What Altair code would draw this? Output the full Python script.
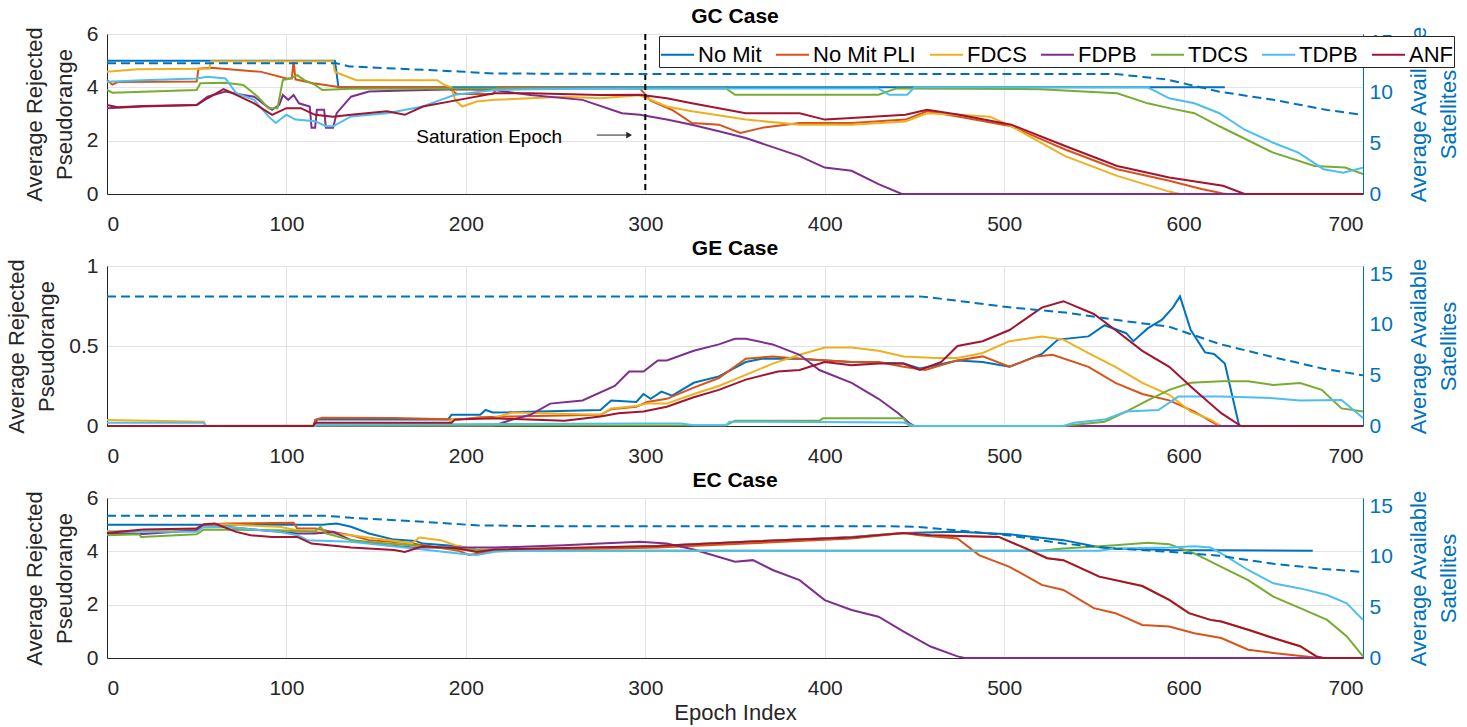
import altair as alt
import pandas as pd

FONT = "Liberation Sans"
INK = "#262626"
SAT_BLUE = "#0072BD"

SERIES = ["No Mit", "No Mit PLI", "FDCS", "FDPB", "TDCS", "TDPB", "ANF"]
COLORS = ["#0072BD", "#D95319", "#EDB120", "#7E2F8E", "#77AC30", "#4DBEEE", "#A2142F"]
X_TICKS = [0, 100, 200, 300, 400, 500, 600, 700]
SAT_TICKS = [0, 5, 10, 15]

# ---------------- GC case: (epoch, average rejected pseudoranges) ----------------
GC_NO_MIT = [(0, 5.0), (127, 5.0), (129, 4.0), (623, 4.0)]
GC_NO_MIT_PLI = [(0, 4.27), (3, 4.1), (6, 4.2), (50, 4.22), (51, 4.7), (58, 4.73), (86, 4.58),
                 (100, 4.33), (103, 4.33), (104, 5.0), (105, 4.3), (115, 4.15), (130, 4.0),
                 (190, 4.0), (195, 3.75), (215, 3.75), (218, 4.0), (297, 3.96), (303, 3.5),
                 (315, 3.15), (326, 2.66), (341, 2.6), (353, 2.29), (365, 2.48), (386, 2.66),
                 (415, 2.66), (445, 2.79), (457, 3.1), (475, 2.9), (504, 2.54), (534, 1.67),
                 (563, 0.93), (592, 0.5), (610, 0.19), (622, 0.02), (625, 0.0), (700, 0.0)]
GC_FDCS = [(0, 4.58), (17, 4.68), (56, 4.7), (57, 4.7), (58, 4.98), (126, 4.98), (127, 4.58),
           (130, 4.5), (139, 4.27), (184, 4.27), (188, 4.09), (192, 4.0), (194, 3.53), (198, 3.28),
           (206, 3.47), (216, 3.53), (236, 3.59), (255, 3.65), (275, 3.59), (297, 3.7), (312, 3.28),
           (326, 3.1), (356, 2.79), (386, 2.6), (415, 2.6), (445, 2.72), (457, 3.03), (475, 2.97),
           (492, 2.9), (504, 2.54), (534, 1.42), (563, 0.68), (592, 0.09), (598, 0.0), (700, 0.0)]
GC_FDPB = [(0, 3.22), (20, 3.28), (50, 3.34), (56, 3.65), (66, 3.84), (76, 3.71), (82, 3.65),
           (88, 3.34), (92, 3.16), (96, 3.34), (98, 3.71), (101, 3.53), (104, 3.71), (107, 3.4),
           (113, 3.28), (114, 2.48), (116, 2.48), (117, 3.16), (121, 3.16), (122, 2.48), (126, 2.48),
           (128, 3.03), (136, 3.65), (146, 3.84), (166, 3.88), (196, 3.93), (216, 3.9), (236, 3.71),
           (265, 3.53), (287, 3.03), (297, 2.97), (312, 2.79), (326, 2.6), (341, 2.35), (356, 2.1),
           (386, 1.42), (400, 0.99), (415, 0.87), (430, 0.37), (443, 0.0), (700, 0.0)]
GC_TDCS = [(0, 3.9), (3, 3.8), (50, 3.9), (52, 4.15), (66, 4.17), (76, 4.09), (84, 3.65), (90, 3.22),
           (95, 3.22), (98, 4.27), (102, 4.33), (106, 4.46), (110, 4.27), (116, 4.09), (120, 3.9),
           (136, 3.95), (297, 3.96), (345, 3.96), (350, 3.72), (430, 3.72), (440, 3.96), (520, 3.93),
           (563, 3.78), (580, 3.4), (592, 3.22), (606, 3.03), (620, 2.54), (650, 1.55), (673, 1.05),
           (690, 0.99), (700, 0.75)]
GC_TDPB = [(0, 4.21), (20, 4.27), (50, 4.33), (56, 4.4), (66, 4.33), (72, 3.78), (82, 3.53), (90, 2.91),
           (94, 2.66), (100, 2.97), (105, 2.79), (116, 2.73), (122, 2.54), (126, 2.54), (136, 2.91),
           (156, 3.03), (176, 3.28), (186, 3.53), (194, 3.72), (216, 3.9), (236, 3.93), (300, 3.96),
           (430, 3.96), (436, 3.72), (446, 3.72), (450, 4.0), (580, 4.0), (592, 3.59), (606, 3.4),
           (620, 3.03), (634, 2.41), (650, 1.92), (664, 1.55), (678, 0.93), (689, 0.8), (700, 0.99)]
GC_ANF = [(0, 3.34), (6, 3.25), (20, 3.3), (50, 3.34), (56, 3.59), (65, 3.93), (72, 3.72), (82, 3.4),
          (92, 2.97), (100, 3.22), (108, 3.22), (116, 2.97), (126, 2.9), (136, 2.97), (156, 3.1),
          (166, 2.97), (176, 3.28), (196, 3.53), (216, 3.78), (236, 3.78), (275, 3.71), (297, 3.72),
          (312, 3.59), (326, 3.4), (356, 3.03), (386, 3.03), (400, 2.79), (415, 2.85), (445, 2.97),
          (457, 3.16), (475, 2.97), (504, 2.6), (534, 1.8), (563, 1.05), (592, 0.62), (622, 0.31),
          (634, 0.0), (700, 0.0)]
GC_SATS = [(0, 12.9), (128, 12.9), (135, 12.6), (196, 12.1), (216, 11.9), (300, 11.85), (562, 11.85),
           (591, 11.3), (620, 10.1), (650, 9.3), (680, 8.3), (700, 7.8)]

# ---------------- GE case ----------------
GE_NO_MIT = [(0, 0.0), (116, 0.0), (117, 0.04), (190, 0.04), (192, 0.07), (208, 0.07), (211, 0.1),
             (215, 0.084), (275, 0.1), (281, 0.16), (295, 0.15), (299, 0.2), (303, 0.17), (309, 0.215),
             (315, 0.19), (327, 0.27), (341, 0.31), (356, 0.4), (365, 0.42), (386, 0.42), (400, 0.41),
             (415, 0.4), (444, 0.39), (453, 0.36), (462, 0.38), (474, 0.41), (488, 0.4), (503, 0.37),
             (521, 0.45), (530, 0.54), (547, 0.56), (556, 0.63), (568, 0.58), (572, 0.53), (580, 0.61),
             (588, 0.665), (594, 0.74), (598, 0.81), (604, 0.6), (612, 0.46), (617, 0.45), (623, 0.39),
             (631, 0.0), (634, 0.0)]
GE_NO_MIT_PLI = [(0, 0.0), (115, 0.0), (116, 0.038), (120, 0.052), (160, 0.05), (196, 0.04), (208, 0.055),
                 (226, 0.06), (275, 0.07), (281, 0.105), (295, 0.12), (301, 0.15), (312, 0.17), (327, 0.24),
                 (341, 0.3), (356, 0.42), (371, 0.435), (386, 0.42), (415, 0.4), (430, 0.4), (444, 0.37),
                 (456, 0.35), (474, 0.41), (488, 0.435), (503, 0.37), (518, 0.435), (527, 0.445),
                 (547, 0.37), (562, 0.27), (577, 0.2), (592, 0.16), (606, 0.09), (615, 0.03), (620, 0.0),
                 (700, 0.0)]
GE_FDCS = [(0, 0.038), (54, 0.027), (55, 0.0), (190, 0.0), (192, 0.04), (215, 0.05), (226, 0.084),
           (275, 0.07), (281, 0.11), (295, 0.125), (301, 0.14), (312, 0.14), (327, 0.2), (341, 0.25),
           (356, 0.32), (371, 0.39), (386, 0.445), (400, 0.49), (415, 0.49), (430, 0.47), (444, 0.435),
           (462, 0.425), (474, 0.425), (488, 0.456), (503, 0.53), (521, 0.56), (533, 0.54), (547, 0.456),
           (562, 0.37), (577, 0.27), (592, 0.195), (604, 0.09), (615, 0.04), (621, 0.0), (700, 0.0)]
GE_FDPB = [(0, 0.0), (215, 0.0), (226, 0.04), (236, 0.07), (247, 0.14), (265, 0.16), (283, 0.25),
           (291, 0.34), (299, 0.34), (307, 0.41), (312, 0.41), (327, 0.47), (341, 0.51), (350, 0.545),
           (356, 0.545), (371, 0.51), (386, 0.445), (397, 0.35), (415, 0.27), (430, 0.17), (441, 0.08),
           (447, 0.02), (450, 0.0), (700, 0.0)]
GE_TDCS = [(0, 0.0), (345, 0.005), (350, 0.033), (397, 0.033), (399, 0.048), (444, 0.048), (447, 0.0),
           (533, 0.0), (556, 0.027), (568, 0.09), (580, 0.16), (592, 0.226), (604, 0.27), (621, 0.28),
           (636, 0.28), (650, 0.257), (665, 0.268), (677, 0.226), (688, 0.11), (700, 0.09)]
GE_TDPB = [(0, 0.02), (54, 0.02), (55, 0.0), (116, 0.0), (117, 0.008), (297, 0.015), (320, 0.015),
           (327, 0.005), (345, 0.005), (347, 0.027), (444, 0.022), (450, 0.0), (533, 0.0), (539, 0.02),
           (556, 0.04), (568, 0.09), (586, 0.1), (597, 0.184), (621, 0.184), (650, 0.174), (665, 0.16),
           (688, 0.163), (700, 0.05)]
GE_ANF = [(0, 0.0), (115, 0.0), (116, 0.02), (192, 0.02), (194, 0.04), (215, 0.048), (255, 0.033),
          (275, 0.06), (285, 0.08), (299, 0.09), (312, 0.12), (327, 0.18), (341, 0.226), (356, 0.29),
          (374, 0.34), (386, 0.35), (400, 0.4), (415, 0.38), (430, 0.39), (444, 0.39), (453, 0.35),
          (465, 0.4), (474, 0.5), (488, 0.53), (503, 0.6), (521, 0.74), (533, 0.78), (550, 0.7),
          (562, 0.6), (577, 0.47), (592, 0.37), (606, 0.226), (621, 0.08), (632, 0.0), (700, 0.0)]
GE_SATS = [(0, 12.8), (453, 12.8), (468, 12.5), (504, 11.7), (534, 11.2), (563, 10.46), (592, 9.8),
           (620, 8.1), (650, 6.8), (678, 5.65), (700, 5.0)]

# ---------------- EC case ----------------
EC_NO_MIT = [(0, 5.0), (120, 5.0), (128, 5.04), (136, 4.92), (146, 4.67), (160, 4.44), (172, 4.39),
             (176, 4.29), (196, 4.19), (206, 4.05), (250, 4.1), (297, 4.17), (356, 4.36), (415, 4.54),
             (444, 4.69), (474, 4.73), (503, 4.64), (533, 4.42), (553, 4.15), (562, 4.11), (592, 4.05),
             (672, 4.02)]
EC_NO_MIT_PLI = [(0, 4.67), (20, 4.77), (50, 4.86), (54, 4.98), (66, 5.04), (104, 5.07), (106, 4.86),
                 (116, 4.86), (126, 4.73), (136, 4.6), (146, 4.42), (170, 4.29), (196, 4.02), (202, 3.86),
                 (216, 4.02), (307, 4.14), (356, 4.29), (415, 4.48), (444, 4.69), (453, 4.6), (474, 4.48),
                 (486, 3.86), (503, 3.42), (521, 2.74), (533, 2.55), (550, 1.87), (562, 1.68), (577, 1.24),
                 (592, 1.18), (606, 0.93), (621, 0.75), (636, 0.31), (650, 0.19), (668, 0.06), (676, 0.0),
                 (700, 0.0)]
EC_FDCS = [(0, 4.75), (50, 4.8), (54, 4.95), (66, 5.02), (76, 4.98), (96, 4.92), (106, 4.79), (136, 4.6),
           (170, 4.3), (174, 4.52), (186, 4.42), (194, 4.23), (206, 4.05), (216, 4.07), (307, 4.2),
           (356, 4.36), (415, 4.52), (444, 4.69), (459, 4.6), (497, 4.54), (512, 4.11), (524, 3.74),
           (533, 3.67), (547, 3.24), (553, 3.05), (577, 2.7), (592, 2.18), (603, 1.68), (615, 1.43),
           (621, 1.37), (636, 1.06), (650, 0.75), (665, 0.44), (674, 0.06), (678, 0.0), (700, 0.0)]
EC_FDPB = [(0, 4.67), (20, 4.65), (50, 4.79), (54, 4.94), (66, 4.92), (86, 4.79), (96, 4.73), (106, 4.67),
           (116, 4.67), (126, 4.73), (136, 4.42), (156, 4.23), (170, 4.14), (216, 4.14), (255, 4.23),
           (275, 4.29), (297, 4.36), (312, 4.29), (327, 4.07), (350, 3.61), (360, 3.67), (371, 3.3),
           (386, 2.92), (400, 2.17), (415, 1.8), (430, 1.55), (444, 0.99), (459, 0.43), (474, 0.06),
           (478, 0.0), (700, 0.0)]
EC_TDCS = [(0, 4.6), (18, 4.64), (19, 4.54), (50, 4.64), (54, 4.82), (96, 4.79), (106, 4.75), (116, 4.75),
           (119, 4.92), (122, 4.67), (136, 4.42), (156, 4.29), (170, 4.23), (196, 4.07), (216, 4.02),
           (520, 4.02), (533, 4.11), (562, 4.23), (580, 4.32), (592, 4.27), (606, 3.92), (621, 3.42),
           (636, 2.92), (650, 2.3), (665, 1.87), (680, 1.43), (691, 0.81), (700, 0.06)]
EC_TDPB = [(0, 4.73), (50, 4.73), (54, 4.92), (66, 4.92), (96, 4.73), (106, 4.6), (112, 4.42),
           (136, 4.36), (166, 4.14), (196, 3.92), (206, 3.86), (216, 3.98), (226, 4.02), (553, 4.02),
           (562, 4.11), (592, 4.14), (606, 4.19), (615, 4.14), (621, 3.92), (636, 3.3), (650, 2.8),
           (665, 2.61), (680, 2.36), (691, 2.05), (700, 1.43)]
EC_ANF = [(0, 4.69), (20, 4.82), (50, 4.86), (54, 5.02), (60, 5.04), (72, 4.73), (80, 4.6), (92, 4.54),
          (106, 4.54), (114, 4.29), (136, 4.14), (160, 4.05), (166, 3.98), (176, 4.19), (196, 4.11),
          (206, 3.98), (216, 4.07), (307, 4.2), (356, 4.36), (415, 4.52), (444, 4.69), (459, 4.6),
          (497, 4.54), (512, 4.11), (524, 3.74), (533, 3.67), (547, 3.24), (553, 3.05), (577, 2.7),
          (592, 2.18), (603, 1.68), (615, 1.43), (621, 1.37), (636, 1.06), (650, 0.75), (665, 0.44),
          (674, 0.06), (678, 0.0), (700, 0.0)]
EC_SATS = [(0, 14.05), (122, 14.05), (136, 13.85), (176, 13.45), (206, 13.1), (250, 13.0), (437, 13.0),
           (452, 12.95), (474, 12.6), (503, 12.1), (533, 11.3), (562, 10.8), (592, 10.5), (620, 10.1),
           (650, 9.3), (678, 8.8), (700, 8.5)]

# Saturation epoch annotation (GC case)
SATURATION_EPOCH = [300]
NOTE_TEXT = ["Saturation Epoch"]
NOTE_POS = [(213, 2.14)]
ARROW = [(273, 2.21), (291, 2.21)]

W, H = 1256, 160


def series_frame(groups):
    rows = []
    for name, pairs in zip(SERIES, groups):
        for epoch, value in pairs:
            rows.append({"series": name, "epoch": epoch, "value": value})
    return pd.DataFrame(rows)


def pairs_frame(pairs):
    return pd.DataFrame({"epoch": [p[0] for p in pairs], "value": [p[1] for p in pairs]})


LEGEND = alt.Legend(
    orient="none", legendX=552, legendY=2, direction="horizontal", columns=7, title=None,
    symbolType="stroke", symbolSize=1089, symbolStrokeWidth=2, labelFontSize=22, labelFont=FONT,
    labelColor="black", labelOffset=3, columnPadding=10, padding=1, strokeColor=INK,
    fillColor="white", labelLimit=300,
)


def x_axis(last):
    return alt.Axis(values=X_TICKS, title="Epoch Index" if last else None, grid=True,
                    gridColor="#e3e3e3", ticks=False, labelFontSize=21, labelPadding=19,
                    titleFontSize=22, titleFontWeight="normal", titlePadding=4)


def panel(title, groups, sats, ymax, yticks, last=False, extras=()):
    xscale = alt.Scale(domain=[0, 700], nice=False)
    lines = alt.Chart(series_frame(groups)).mark_line(strokeWidth=2).encode(
        x=alt.X("epoch:Q", scale=xscale, axis=x_axis(last)),
        y=alt.Y("value:Q", scale=alt.Scale(domain=[0, ymax], nice=False),
                axis=alt.Axis(values=yticks, format="~g", title=["Average Rejected", "Pseudorange"],
                              grid=True, gridColor="#e3e3e3", ticks=False, labelFontSize=21,
                              labelPadding=9, titleFontSize=22, titleFontWeight="normal",
                              titleLineHeight=30, titlePadding=10)),
        color=alt.Color("series:N", scale=alt.Scale(domain=SERIES, range=COLORS), legend=LEGEND),
    )
    left = alt.layer(lines, *extras)
    right = alt.Chart(pairs_frame(sats)).mark_line(strokeWidth=2, strokeDash=[9, 5], color=SAT_BLUE).encode(
        x=alt.X("epoch:Q", scale=xscale, axis=x_axis(last)),
        y=alt.Y("value:Q", scale=alt.Scale(domain=[0, 15.8], nice=False),
                axis=alt.Axis(orient="right", values=SAT_TICKS, title=["Average Available", "Satellites"],
                              grid=False, ticks=False, domainColor=SAT_BLUE, labelColor=SAT_BLUE,
                              titleColor=SAT_BLUE, labelFontSize=21, labelPadding=6, titleFontSize=22,
                              titleFontWeight="normal", titleAngle=270, titleLineHeight=30,
                              titlePadding=8)),
    )
    return alt.layer(left, right).resolve_scale(y="independent").properties(
        width=W, height=H,
        title=alt.TitleParams(title, fontSize=21, fontWeight="bold", font=FONT, color="black",
                              anchor="middle", frame="group", offset=-4),
    )


sat_rule = alt.Chart(pd.DataFrame({"epoch": SATURATION_EPOCH})).mark_rule(
    color="black", strokeWidth=2, strokeDash=[6, 4]).encode(x="epoch:Q")
note = alt.Chart(pd.DataFrame({"epoch": [p[0] for p in NOTE_POS], "value": [p[1] for p in NOTE_POS],
                               "label": NOTE_TEXT})).mark_text(
    fontSize=19, font=FONT, color="black", align="center", baseline="middle").encode(
    x="epoch:Q", y="value:Q", text="label:N")
arrow_df = pd.DataFrame({"epoch": [ARROW[0][0]], "epoch2": [ARROW[1][0]], "value": [ARROW[0][1]]})
arrow_shaft = alt.Chart(arrow_df).mark_rule(color=INK, strokeWidth=1).encode(
    x="epoch:Q", x2="epoch2:Q", y="value:Q")
arrow_head = alt.Chart(pd.DataFrame({"epoch": [ARROW[1][0]], "value": [ARROW[1][1]]})).mark_point(
    shape="triangle-right", filled=True, color=INK, size=45, opacity=1).encode(x="epoch:Q", y="value:Q")

gc = panel("GC Case", [GC_NO_MIT, GC_NO_MIT_PLI, GC_FDCS, GC_FDPB, GC_TDCS, GC_TDPB, GC_ANF], GC_SATS,
           6, [0, 2, 4, 6], extras=(sat_rule, note, arrow_shaft, arrow_head))
ge = panel("GE Case", [GE_NO_MIT, GE_NO_MIT_PLI, GE_FDCS, GE_FDPB, GE_TDCS, GE_TDPB, GE_ANF], GE_SATS,
           1, [0, 0.5, 1])
ec = panel("EC Case", [EC_NO_MIT, EC_NO_MIT_PLI, EC_FDCS, EC_FDPB, EC_TDCS, EC_TDPB, EC_ANF], EC_SATS,
           6, [0, 2, 4, 6], last=True)

chart = alt.vconcat(gc, ge, ec, spacing=2).configure(
    font=FONT, padding={"left": 5, "top": 5, "right": 5, "bottom": 2}
).configure_view(stroke=INK, strokeWidth=1).configure_axis(
    labelColor=INK, titleColor=INK, domainColor=INK, labelFont=FONT, titleFont=FONT
)

chart.save("out.html", embed_options={"renderer": "svg", "actions": False})
